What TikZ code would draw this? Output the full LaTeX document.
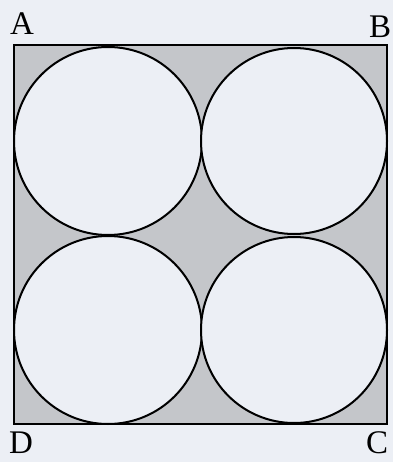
\documentclass[tikz,border=0pt]{standalone}
\usepackage{fontspec}
\setmainfont{Liberation Serif}
\definecolor{paper}{RGB}{236,239,245}
\definecolor{greyfill}{RGB}{196,198,202}
\begin{document}
\begin{tikzpicture}[x=1pt,y=-1pt,
  lbl/.style={font=\fontsize{33}{33}\selectfont, inner sep=0pt, text=black},
  edge/.style={draw=black, line width=2pt},
  ring/.style={draw=black, line width=2pt, fill=paper}]
\fill[paper] (0,0) rectangle (393,462);
\useasboundingbox (0,0) rectangle (393,462);
\coordinate (sqA) at (14,45);
\coordinate (sqC) at (387,424);
\fill[greyfill] (sqA) rectangle (sqC);
\draw[ring] (108,141) circle[radius=94];
\draw[ring] (294,141) circle[radius=93];
\draw[ring] (108,330) circle[radius=94];
\draw[ring] (294,330) circle[radius=93];
\draw[edge] (sqA) rectangle (sqC);
\node[lbl] (A) at (22,24) {A};
\node[lbl] (B) at (380,27) {B};
\node[lbl] (D) at (21,443) {D};
\node[lbl] (C) at (377,443) {C};
\end{tikzpicture}
\end{document}
